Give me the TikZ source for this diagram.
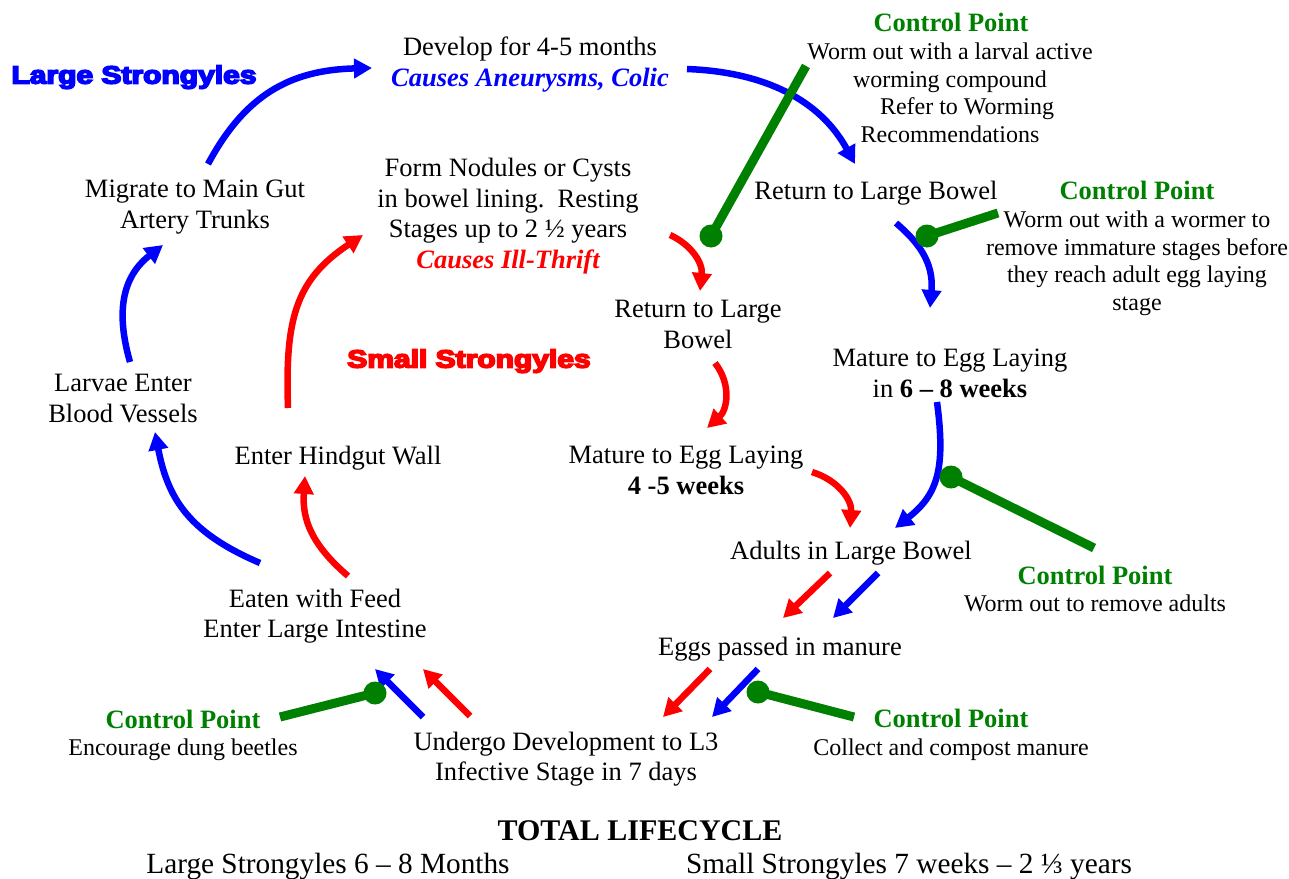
\documentclass[tikz,border=0pt]{standalone}
\usepackage{fontspec}
\setmainfont{Liberation Serif}
\newfontfamily\heavy[FakeBold=6]{Liberation Sans Bold}
\usetikzlibrary{arrows.meta}
\definecolor{cpgreen}{RGB}{0,128,0}
\definecolor{lsblue}{RGB}{0,0,255}
\definecolor{ssred}{RGB}{255,0,0}
\tikzset{
  txt/.style={font=\fontsize{26.5}{30.5}\selectfont, align=center, inner sep=0pt,
    execute at begin node=\strut, execute at end node=\strut},
  smalltxt/.style={font=\fontsize{24}{27.6}\selectfont, align=center, inner sep=0pt,
    execute at begin node=\strut, execute at end node=\strut},
  cptitle/.style={font=\fontsize{26.5}{30.5}\selectfont\bfseries, text=cpgreen, inner sep=0pt,
    execute at begin node=\strut},
  heading/.style={font=\fontsize{25}{28}\selectfont\heavy, inner sep=0pt, xscale=1.2,
    execute at begin node=\strut},
  barrow/.style={draw=lsblue, line width=6.5pt, -{Triangle[length=18pt,width=19pt]}},
  rarrow/.style={draw=ssred, line width=6.5pt, -{Triangle[length=18pt,width=19pt]}},
  cpline/.style={draw=cpgreen, line width=9pt},
  cpdot/.style={circle, fill=cpgreen, minimum size=23pt, inner sep=0pt},
}
\begin{document}
\begin{tikzpicture}[x=1pt,y=-1pt]
\useasboundingbox (0,0) rectangle (1289,878);
\fill[white] (0,0) rectangle (1289,878);

% headings
\node[heading, text=lsblue] (hls) at (134,78) {Large Strongyles};
\node[heading, text=ssred] (hss) at (469,362) {Small Strongyles};

% stage texts
\node[txt] (dev) at (530,66) {Develop for 4-5 months\\{\color{lsblue}\bfseries\itshape Causes Aneurysms, Colic}};
\node[txt] (mig) at (195,209) {Migrate to Main Gut\\Artery Trunks};
\node[txt] (form) at (508,218) {Form Nodules or Cysts\\in bowel lining.\ \ Resting\\Stages up to 2 ½ years\\{\color{ssred}\bfseries\itshape Causes Ill-Thrift}};
\node[txt] (ret1) at (876,193) {Return to Large Bowel};
\node[txt] (ret2) at (698,329) {Return to Large\\Bowel};
\node[txt] (larv) at (123,403) {Larvae Enter\\Blood Vessels};
\node[txt] (hind) at (338,458) {Enter Hindgut Wall};
\node[txt] (mat1) at (950,378) {Mature to Egg Laying\\in \textbf{6 – 8 weeks}};
\node[txt] (mat2) at (686,475) {Mature to Egg Laying\\\textbf{4 -5 weeks}};
\node[txt] (adults) at (851,553) {Adults in Large Bowel};
\node[txt] (eaten) at (315,618) {Eaten with Feed\\Enter Large Intestine};
\node[txt] (eggs) at (780,649) {Eggs passed in manure};
\node[txt] (undergo) at (566,761) {Undergo Development to L3\\Infective Stage in 7 days};

% totals
\node[font=\fontsize{30}{34}\selectfont\bfseries, inner sep=0pt, execute at begin node=\strut] (total) at (640,834) {TOTAL LIFECYCLE};
\node[font=\fontsize{29.3}{34}\selectfont, inner sep=0pt, execute at begin node=\strut] (tls) at (328,867) {Large Strongyles 6 – 8 Months};
\node[font=\fontsize{29.3}{34}\selectfont, inner sep=0pt, execute at begin node=\strut] (tss) at (909,867) {Small Strongyles 7 weeks – 2 ⅓ years};

% control point texts
\node[cptitle] (cp1t) at (951,25) {Control Point};
\node[smalltxt] (cp1d) at (950,97) {Worm out with a larval active\\worming compound\\\hspace*{34pt}Refer to Worming\\Recommendations};
\node[cptitle] (cp2t) at (1137,193) {Control Point};
\node[smalltxt] (cp2d) at (1137,265) {Worm out with a wormer to\\remove immature stages before\\they reach adult egg laying\\stage};
\node[cptitle] (cp3t) at (1095,578) {Control Point};
\node[smalltxt] (cp3d) at (1095,606) {Worm out to remove adults};
\node[cptitle] (cp4t) at (183,722) {Control Point};
\node[smalltxt] (cp4d) at (183,750) {Encourage dung beetles};
\node[cptitle] (cp5t) at (951,721) {Control Point};
\node[smalltxt] (cp5d) at (951,750) {Collect and compost manure};

% coordinates for arrow ends
\coordinate (b1s) at (208,164); \coordinate (b1e) at (372,68);
\coordinate (b2s) at (687,69);  \coordinate (b2e) at (855,164);
\coordinate (b3s) at (896,223); \coordinate (b3e) at (930,308);
\coordinate (b4s) at (937,402); \coordinate (b4e) at (895,528);
\coordinate (b5s) at (878,573); \coordinate (b5e) at (833,618);
\coordinate (b6s) at (758,669); \coordinate (b6e) at (712,717);
\coordinate (b7s) at (423,717); \coordinate (b7e) at (375,669);
\coordinate (b8s) at (260,563); \coordinate (b8e) at (155,432);
\coordinate (b9s) at (130,362); \coordinate (b9e) at (163,245);

\coordinate (r1s) at (348,576); \coordinate (r1e) at (305,476);
\coordinate (r2s) at (288,408); \coordinate (r2e) at (363,235);
\coordinate (r3s) at (670,235); \coordinate (r3e) at (700,291);
\coordinate (r4s) at (715,363); \coordinate (r4e) at (707,428);
\coordinate (r5s) at (812,472); \coordinate (r5e) at (850,528);
\coordinate (r6s) at (830,573); \coordinate (r6e) at (783,618);
\coordinate (r7s) at (710,669); \coordinate (r7e) at (663,717);
\coordinate (r8s) at (470,716); \coordinate (r8e) at (423,669);

% blue arrows (large strongyles)
\draw[barrow] (b1s) .. controls (245,95) and (290,70) .. (b1e);
\draw[barrow] (b2s) .. controls (765,72) and (820,100) .. (b2e);
\draw[barrow] (b3s) .. controls (918,242) and (934,262) .. (b3e);
\draw[barrow] (b4s) .. controls (946,470) and (937,495) .. (b4e);
\draw[barrow] (b5s) -- (b5e);
\draw[barrow] (b6s) -- (b6e);
\draw[barrow] (b7s) -- (b7e);
\draw[barrow] (b8s) .. controls (190,533) and (168,500) .. (b8e);
\draw[barrow] (b9s) .. controls (118,320) and (118,280) .. (b9e);

% red arrows (small strongyles)
\draw[rarrow] (r1s) .. controls (312,545) and (302,520) .. (r1e);
\draw[rarrow] (r2s) .. controls (285,320) and (295,280) .. (r2e);
\draw[rarrow] (r3s) .. controls (690,244) and (703,262) .. (r3e);
\draw[rarrow] (r4s) .. controls (732,385) and (727,410) .. (r4e);
\draw[rarrow] (r5s) .. controls (838,480) and (852,500) .. (r5e);
\draw[rarrow] (r6s) -- (r6e);
\draw[rarrow] (r7s) -- (r7e);
\draw[rarrow] (r8s) -- (r8e);

% control point pins
\node[cpdot] (d1) at (711,236) {};
\node[cpdot] (d2) at (927,236) {};
\node[cpdot] (d3) at (951,477) {};
\node[cpdot] (d4) at (375,693) {};
\node[cpdot] (d5) at (758,692) {};
\coordinate (e1) at (806,66);
\coordinate (e2) at (998,213);
\coordinate (e3) at (1094,548);
\coordinate (e4) at (280,717);
\coordinate (e5) at (854,717);
\draw[cpline] (d1.center) -- (e1);
\draw[cpline] (d2.center) -- (e2);
\draw[cpline] (d3.center) -- (e3);
\draw[cpline] (d4.center) -- (e4);
\draw[cpline] (d5.center) -- (e5);
\end{tikzpicture}
\end{document}
